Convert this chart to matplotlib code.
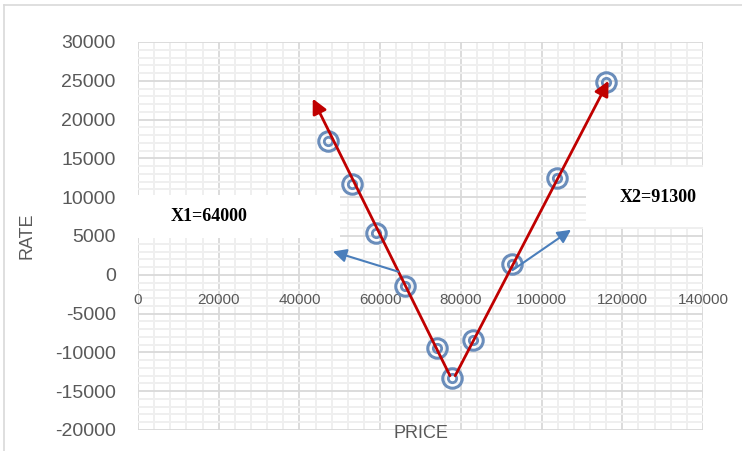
import matplotlib
matplotlib.use("Agg")
import matplotlib.pyplot as plt
from matplotlib.patches import Rectangle
from matplotlib.ticker import MultipleLocator

# ---- data ----
price = [47000, 53000, 59000, 66200, 74000, 77700, 82900, 92600, 103700, 116000]
rate = [17300, 11700, 5400, -1500, -9400, -13300, -8400, 1400, 12500, 24800]

x_ticks = [0, 20000, 40000, 60000, 80000, 100000, 120000, 140000]
y_ticks = [-20000, -15000, -10000, -5000, 0, 5000, 10000, 15000, 20000, 25000, 30000]

# annotation arrows (start, tip) in data units
red_arrows = [((77300, -13000), (43300, 22700)),
              ((78600, -13000), (116600, 25000))]
blue_arrows = [((64500, 400), (48300, 3000)),
               ((92800, 600), (107300, 5800))]
label1 = "X1=64000"
label2 = "X2=91300"

# ---- figure ----
W, H = 742, 451
fig = plt.figure(figsize=(W / 100, H / 100), dpi=100)
L, R, T, B = 138, 703, 42, 430
rect = [L / W, (H - B) / H, (R - L) / W, (B - T) / H]

# grid-only axes underneath
gax = fig.add_axes(rect, zorder=0)
ax = fig.add_axes(rect, zorder=1)
for a in (gax, ax):
    a.set_xlim(0, 140000)
    a.set_ylim(-20000, 30000)
    a.set_xticks(x_ticks)
    a.set_yticks(y_ticks)
    for s in a.spines.values():
        s.set_visible(False)
    a.tick_params(which="both", length=0)

gax.xaxis.set_minor_locator(MultipleLocator(4000))
gax.yaxis.set_minor_locator(MultipleLocator(1000))
gax.grid(which="minor", color="#efefef", lw=1.4)
gax.grid(which="major", color="#d9d9d9", lw=1.3)
gax.tick_params(labelbottom=False, labelleft=False)

ax.patch.set_visible(False)
ax.spines["bottom"].set_position(("data", 0))
ax.tick_params(axis="y", labelsize=14, labelcolor="#595959", pad=16)
ax.tick_params(axis="x", labelsize=11, labelcolor="#595959", pad=13)
ax.set_xticklabels([str(v) for v in x_ticks], family="Liberation Sans")
ax.set_yticklabels([str(v) for v in y_ticks], family="Liberation Sans")

ax.set_xlabel("PRICE", fontsize=13, color="#595959", family="Liberation Sans", va="center")
ax.xaxis.set_label_coords(0.5, -(434 - B) / (B - T))
ax.set_ylabel("RATE", fontsize=13, color="#595959", family="Liberation Sans", va="center")
ax.yaxis.set_label_coords((27 - L) / (R - L), 0.5)

# white text boxes
ax.add_patch(Rectangle((-5700, 4800), 55700, 5500, facecolor="white",
                       edgecolor="none", zorder=1, clip_on=False))
ax.add_patch(Rectangle((111000, 6100), 31000, 7800, facecolor="white",
                       edgecolor="none", zorder=1, clip_on=False))
ax.text(17500, 7500, label1, fontsize=13, fontweight="bold",
        family="Liberation Serif", ha="center", va="center", zorder=2)
ax.text(129000, 10000, label2, fontsize=13, fontweight="bold",
        family="Liberation Serif", ha="center", va="center", zorder=2, clip_on=False)

# markers (double ring)
mc = "#6a8dbb"
ax.plot(price, rate, ls="none", marker="o", ms=14, mfc="none", mec=mc, mew=2.2, zorder=3)
ax.plot(price, rate, ls="none", marker="o", ms=6, mfc="none", mec=mc, mew=2.0, zorder=3)

for (s, t) in red_arrows:
    ax.annotate("", xy=t, xytext=s,
                arrowprops=dict(arrowstyle="-|>", color="#c00000", lw=2.0,
                                mutation_scale=22, shrinkA=0, shrinkB=0), zorder=4)
for (s, t) in blue_arrows:
    ax.annotate("", xy=t, xytext=s,
                arrowprops=dict(arrowstyle="-|>", color="#4a7ebb", lw=1.5,
                                mutation_scale=20, shrinkA=0, shrinkB=0), zorder=4)

# outer frame lines (top and left)
fig.add_artist(plt.Line2D([4 / W, 1], [1 - 5 / H, 1 - 5 / H], color="#d9d9d9", lw=1.2,
                          transform=fig.transFigure))
fig.add_artist(plt.Line2D([4 / W, 4 / W], [0, 1 - 5 / H], color="#d9d9d9", lw=1.2,
                          transform=fig.transFigure))

fig.savefig("out.png", dpi=100)
